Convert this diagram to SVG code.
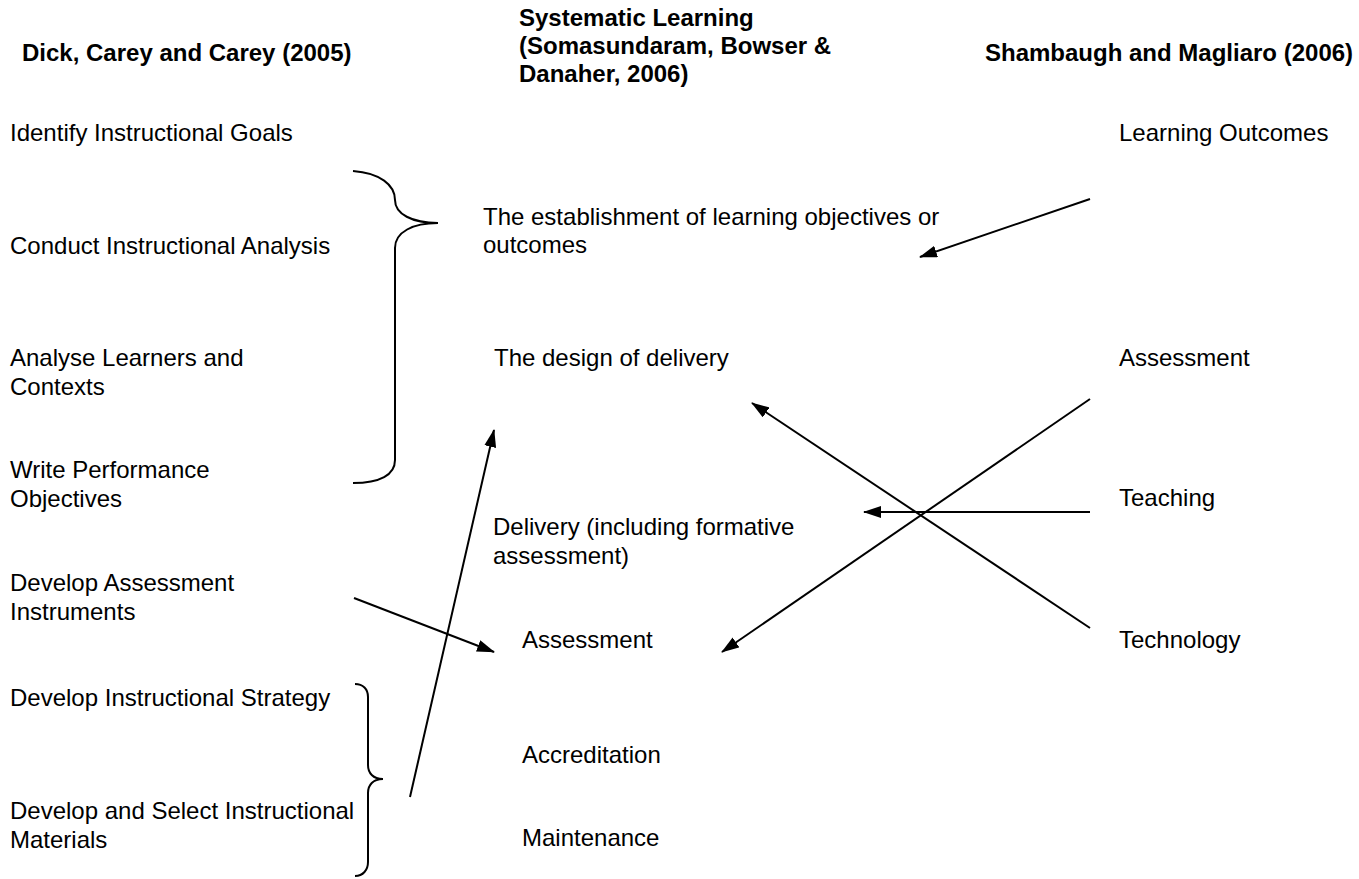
<svg xmlns="http://www.w3.org/2000/svg" width="1359" height="879" viewBox="0 0 1359 879">
<style>
text{font-family:"Liberation Sans",Arial,sans-serif;font-size:24px;fill:#000}
.h{font-weight:bold}
.c{fill:none;stroke:#000;stroke-width:2}
</style>
<defs>
<marker id="ah" viewBox="0 0 18 12" refX="17" refY="6" markerWidth="18" markerHeight="12" orient="auto" markerUnits="userSpaceOnUse">
<path d="M0,0 L18,6 L0,12 Z" fill="#000"/>
</marker>
</defs>
<rect width="1359" height="879" fill="#fff"/>
<g id="headers">
<text class="h" x="22" y="61">Dick, Carey and Carey (2005)</text>
<text class="h" x="519" y="26">Systematic Learning</text>
<text class="h" x="519" y="54">(Somasundaram, Bowser &amp;</text>
<text class="h" x="519" y="82">Danaher, 2006)</text>
<text class="h" x="985" y="61">Shambaugh and Magliaro (2006)</text>
</g>
<g id="dick">
<g id="d1"><text x="10" y="141">Identify Instructional Goals</text></g>
<g id="d2"><text x="10" y="254">Conduct Instructional Analysis</text></g>
<g id="d3"><text x="10" y="366">Analyse Learners and</text><text x="10" y="395">Contexts</text></g>
<g id="d4"><text x="10" y="478">Write Performance</text><text x="10" y="507">Objectives</text></g>
<g id="d5"><text x="10" y="591">Develop Assessment</text><text x="10" y="620">Instruments</text></g>
<g id="d6"><text x="10" y="706">Develop Instructional Strategy</text></g>
<g id="d7"><text x="10" y="819">Develop and Select Instructional</text><text x="10" y="848">Materials</text></g>
</g>
<g id="systematic">
<g id="s1"><text x="483" y="225">The establishment of learning objectives or</text><text x="483" y="253">outcomes</text></g>
<g id="s2"><text x="494" y="366">The design of delivery</text></g>
<g id="s3"><text x="493" y="535">Delivery (including formative</text><text x="493" y="564">assessment)</text></g>
<g id="s4"><text x="522" y="648">Assessment</text></g>
<g id="s5"><text x="522" y="763">Accreditation</text></g>
<g id="s6"><text x="522" y="846">Maintenance</text></g>
</g>
<g id="shambaugh">
<g id="r1"><text x="1119" y="141">Learning Outcomes</text></g>
<g id="r2"><text x="1119" y="366">Assessment</text></g>
<g id="r3"><text x="1119" y="506">Teaching</text></g>
<g id="r4"><text x="1119" y="648">Technology</text></g>
</g>
<g id="braces">
<path class="c" d="M353,171 C380,173 395,185 395,200 C395,214 412,223 438,223 C413,223 395,232 395,248 L395,460 C395,475 380,483 353,483"/>
<path class="c" d="M355,684 C363,684 368,689 368,697 L368,765 C368,773 373,779 383,779 C373,779 368,785 368,793 L368,862 C368,870 363,876 355,876"/>
</g>
<g id="connectors">
<line class="c" x1="1090" y1="199" x2="920" y2="257" marker-end="url(#ah)"/>
<line class="c" x1="1090" y1="399" x2="722" y2="652" marker-end="url(#ah)"/>
<line class="c" x1="1090" y1="628" x2="752" y2="403" marker-end="url(#ah)"/>
<line class="c" x1="1090" y1="512" x2="864" y2="512" marker-end="url(#ah)"/>
<line class="c" x1="354" y1="598" x2="494" y2="652" marker-end="url(#ah)"/>
<line class="c" x1="410" y1="797" x2="494" y2="430" marker-end="url(#ah)"/>
</g>
</svg>
